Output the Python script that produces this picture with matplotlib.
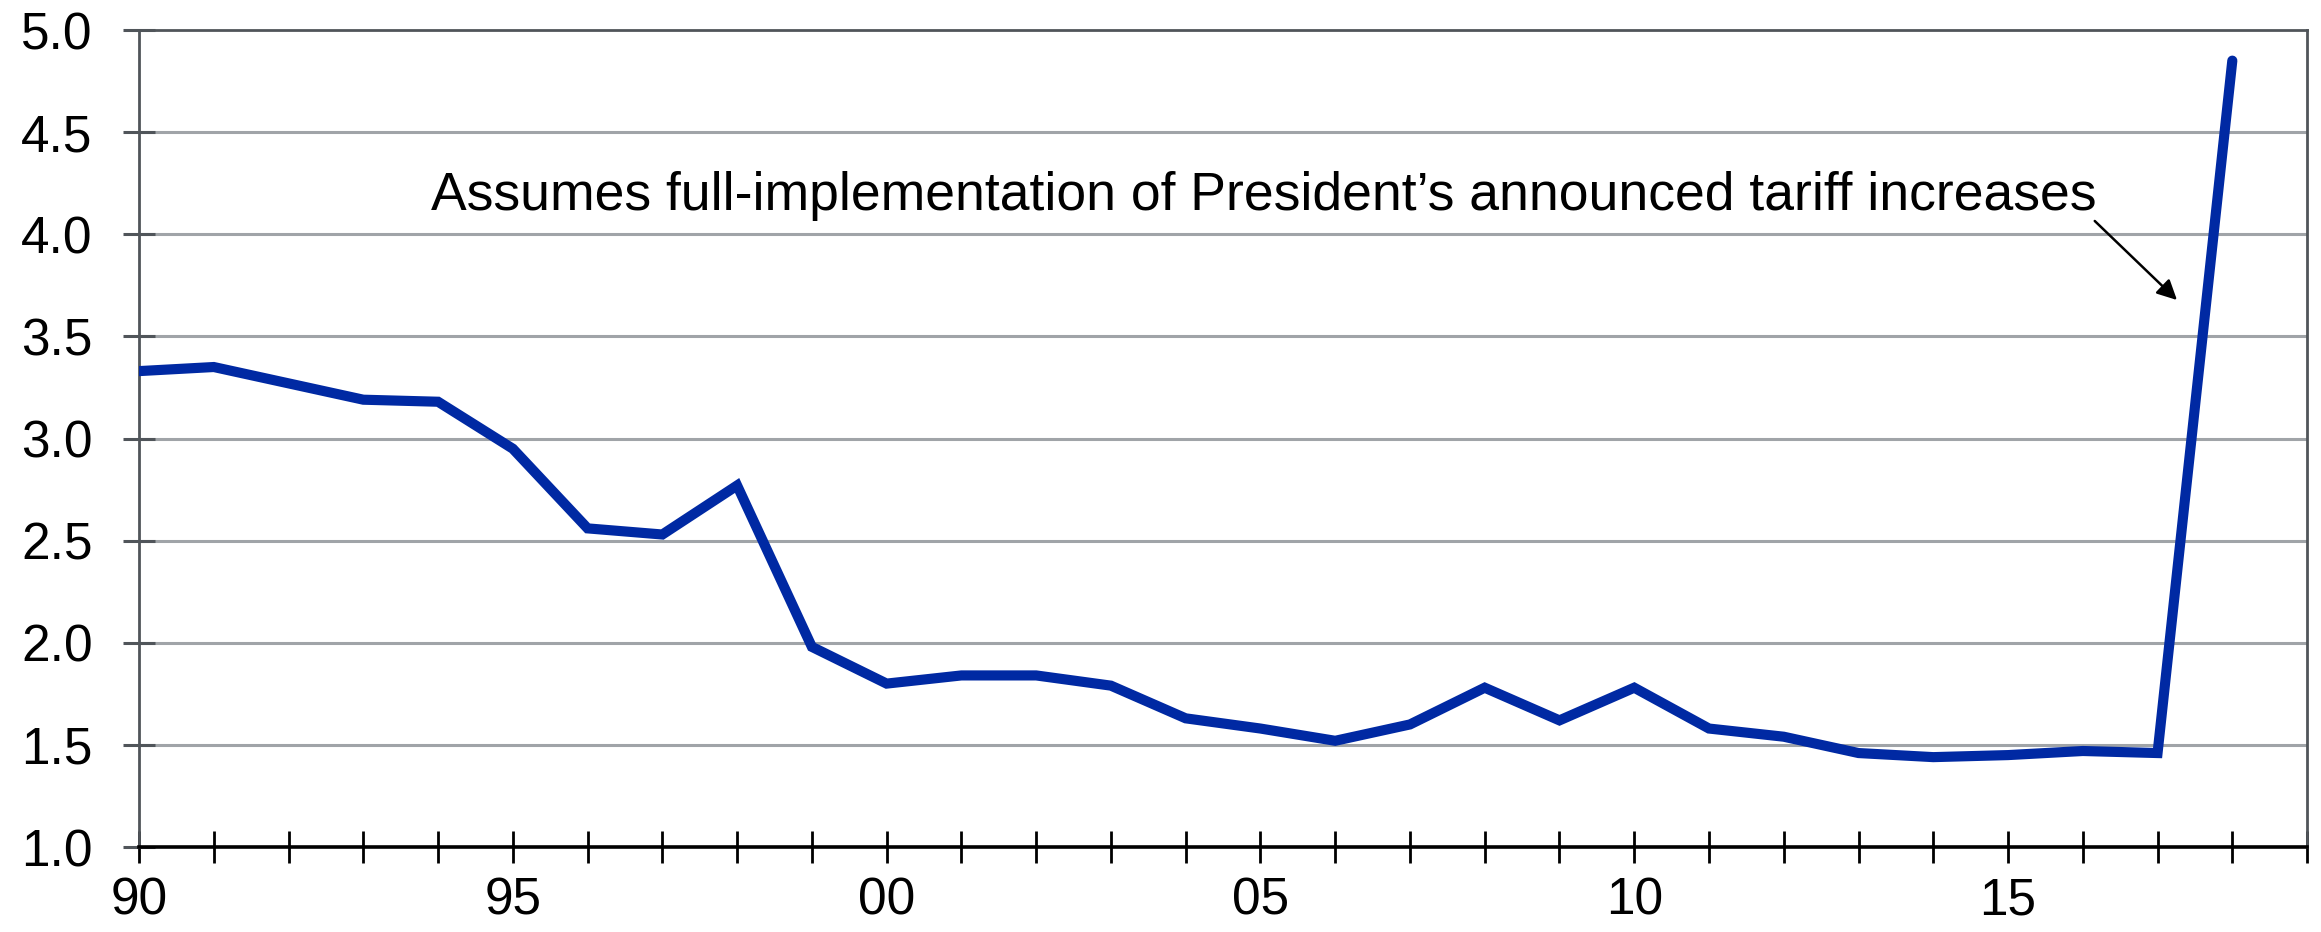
import matplotlib
matplotlib.use("Agg")
import matplotlib.pyplot as plt

plt.rcParams['font.family'] = ['Liberation Sans', 'DejaVu Sans']

# Average tariff rate by year
years = list(range(1990, 2019))
rates = [3.33, 3.35, 3.27, 3.19, 3.18, 2.95, 2.56, 2.53, 2.77, 1.98,
         1.80, 1.84, 1.84, 1.79, 1.63, 1.58, 1.52, 1.60, 1.78, 1.62,
         1.78, 1.58, 1.54, 1.46, 1.44, 1.45, 1.47, 1.46, 4.85]

label_years = [1990, 1995, 2000, 2005, 2010, 2015]
label_texts = ["90", "95", "00", "05", "10", "15"]
y_ticks = [1.0, 1.5, 2.0, 2.5, 3.0, 3.5, 4.0, 4.5, 5.0]

note = "Assumes full-implementation of President\u2019s announced tariff increases"

fig = plt.figure(figsize=(23.21, 9.32), dpi=100)
ax = fig.add_axes([0.0599, 0.0912, 0.9341, 0.8766])

ax.set_xlim(1990, 2019)
ax.set_ylim(1.0, 5.0)

grid_col = '#a0a4a8'
for y in y_ticks[1:-1]:
    ax.axhline(y, color=grid_col, lw=2.2, zorder=1)

ax.plot(years, rates, color='#0029A3', lw=7.3, solid_joinstyle='miter',
        solid_capstyle='round', zorder=3)

# Spines
for side in ['top', 'right', 'left']:
    ax.spines[side].set_color('#50555a')
    ax.spines[side].set_linewidth(2.0)
ax.spines['bottom'].set_color('black')
ax.spines['bottom'].set_linewidth(2.6)
ax.spines['bottom'].set_zorder(4)

# Ticks
all_years = list(range(1990, 2020))
ax.set_xticks(all_years)
ax.set_xticklabels([label_texts[label_years.index(y)] if y in label_years else ""
                    for y in all_years])
ax.tick_params(axis='x', direction='inout', length=23, width=2.0, color='black',
               labelsize=37, pad=10)
ax.set_yticks(y_ticks)
ax.set_yticklabels([f"{v:.1f}" for v in y_ticks])
ax.tick_params(axis='y', direction='inout', length=23, width=2.2, color='#50555a',
               labelsize=37, pad=22)

ax.text(1993.9, 4.119, note, fontsize=38.5, ha='left', va='baseline', zorder=5)
ax.annotate("", xy=(2017.26, 3.678), xytext=(2016.16, 4.065),
            arrowprops=dict(arrowstyle='-|>', color='black', lw=1.8,
                            mutation_scale=30, shrinkA=0, shrinkB=0),
            zorder=5)

fig.savefig("out.png", dpi=100, facecolor='white')
